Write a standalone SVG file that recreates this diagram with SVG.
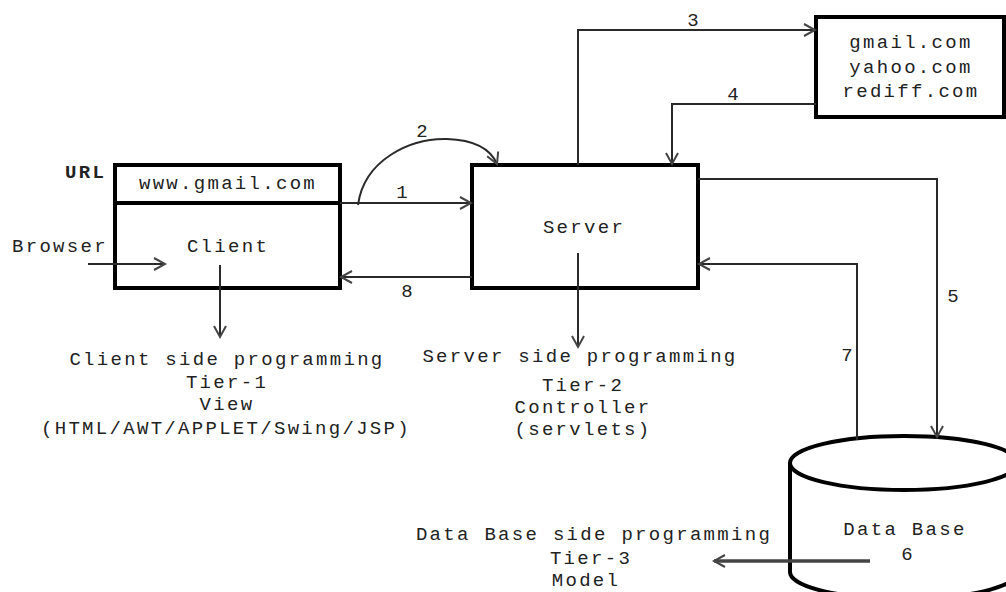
<svg xmlns="http://www.w3.org/2000/svg" width="1006" height="592" viewBox="0 0 1006 592">
  <style>
    text { font-family: "Liberation Mono", "DejaVu Sans Mono", monospace; font-size: 19px; letter-spacing: 2.3px; fill: #222; }
    .c { text-anchor: middle; }
    .b { font-weight: bold; }
    .box { fill: #fff; stroke: #000; stroke-width: 4; }
    .wire { fill: none; stroke: #2a2a2a; stroke-width: 2; }
    .thick { fill: none; stroke: #444; stroke-width: 3.5; }
  </style>
  <defs>
    <marker id="arrow" markerUnits="userSpaceOnUse" markerWidth="16" markerHeight="16" viewBox="-12 -8 14 16" refX="0" refY="0" orient="auto">
      <path d="M-11,-6 L0,0 L-11,6" fill="none" stroke="#444" stroke-width="2"/>
    </marker>
  </defs>

  <!-- client node -->
  <g id="client">
    <rect class="box" x="115" y="165" width="225" height="123"/>
    <line x1="115" y1="203" x2="340" y2="203" stroke="#000" stroke-width="4"/>
    <text class="b" x="65" y="178">URL</text>
    <text class="c" x="228" y="189">www.gmail.com</text>
    <text class="c" x="228" y="252">Client</text>
    <text x="12" y="252">Browser</text>
  </g>

  <!-- server node -->
  <g id="server">
    <rect class="box" x="472" y="165" width="226" height="123"/>
    <text class="c" x="584" y="233">Server</text>
  </g>

  <!-- mail providers node -->
  <g id="mail">
    <rect class="box" x="816" y="17" width="188" height="100"/>
    <text class="c" x="911" y="48">gmail.com</text>
    <text class="c" x="911" y="73">yahoo.com</text>
    <text class="c" x="911" y="97">rediff.com</text>
  </g>

  <!-- database node -->
  <g id="database">
    <path d="M790,463 V572 A114,27 0 0 0 1018,572 V463" fill="#fff" stroke="#000" stroke-width="4"/>
    <ellipse cx="904" cy="463" rx="114" ry="27" fill="#fff" stroke="#000" stroke-width="4"/>
    <path class="thick" d="M870,561 H714" marker-end="url(#arrow)"/>
    <text class="c" x="905" y="535">Data Base</text>
    <text class="c" x="908" y="560">6</text>
  </g>

  <!-- connectors -->
  <g id="connectors">
    <path class="wire" d="M88,264 H165" marker-end="url(#arrow)"/>
    <path class="wire" d="M340,203 H471" marker-end="url(#arrow)"/>
    <path class="wire" d="M472,277 H341" marker-end="url(#arrow)"/>
    <path class="wire" d="M358,205 C364,160 410,138 447,139 C476,140 491,150 497,164" marker-end="url(#arrow)"/>
    <path class="wire" d="M578,165 V30 H815" marker-end="url(#arrow)"/>
    <path class="wire" d="M816,104 H672 V164" marker-end="url(#arrow)"/>
    <path class="wire" d="M698,179 H937 V437" marker-end="url(#arrow)"/>
    <path class="wire" d="M857,440 V264 H699" marker-end="url(#arrow)"/>
    <path class="wire" d="M220,265 V337" marker-end="url(#arrow)"/>
    <path class="wire" d="M578,253 V347" marker-end="url(#arrow)"/>
    <text class="c" x="403" y="198">1</text>
    <text class="c" x="423" y="137">2</text>
    <text class="c" x="694" y="26">3</text>
    <text class="c" x="734" y="100">4</text>
    <text class="c" x="954" y="302">5</text>
    <text class="c" x="848" y="361">7</text>
    <text class="c" x="408" y="297">8</text>
  </g>

  <!-- tier descriptions -->
  <g id="tier1">
    <text class="c" x="227" y="365">Client side programming</text>
    <text class="c" x="227" y="388">Tier-1</text>
    <text class="c" x="227" y="410">View</text>
    <text class="c" x="226" y="434">(HTML/AWT/APPLET/Swing/JSP)</text>
  </g>
  <g id="tier2">
    <text class="c" x="580" y="362">Server side programming</text>
    <text class="c" x="583" y="391">Tier-2</text>
    <text class="c" x="583" y="413">Controller</text>
    <text class="c" x="583" y="435">(servlets)</text>
  </g>
  <g id="tier3">
    <text class="c" x="594" y="540">Data Base side programming</text>
    <text class="c" x="591" y="564">Tier-3</text>
    <text class="c" x="586" y="586">Model</text>
  </g>
</svg>
